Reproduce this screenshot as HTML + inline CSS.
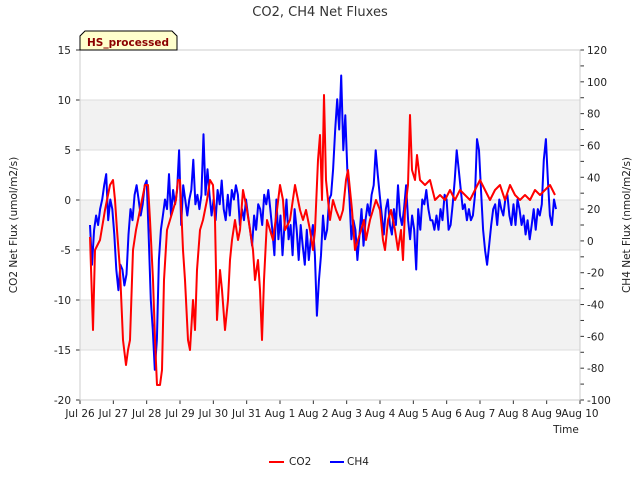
<!DOCTYPE html>
<html><head><meta charset="utf-8"><style>
body{margin:0;background:#fff;}
svg{display:block;font-family:"DejaVu Sans","Liberation Sans",sans-serif;}
</style></head><body>
<svg id="chart" width="640" height="480" viewBox="0 0 640 480">
<text x="320" y="16" text-anchor="middle" font-size="13" fill="#333">CO2, CH4 Net Fluxes</text>
<g id="bands"></g>
<g id="axes"></g>
<g id="series"></g>
<text x="17" y="225" transform="rotate(-90 17 225)" text-anchor="middle" font-size="10.5" fill="#222">CO2 Net Flux (umol/m2/s)</text>
<text x="630" y="225" transform="rotate(-90 630 225)" text-anchor="middle" font-size="10.5" fill="#222">CH4 Net Flux (nmol/m2/s)</text>
<text x="566" y="433" text-anchor="middle" font-size="10.5" fill="#222">Time</text>
<g>
<path d="M80,50 L80,36 L85,31 L172,31 L177,36 L177,50 Z" fill="#ffffcc" stroke="#000" stroke-width="1"/>
<text x="128" y="46" text-anchor="middle" font-size="10.5" font-weight="bold" fill="#8b0000">HS_processed</text>
</g>
<g>
<g><line x1="269" y1="462" x2="284" y2="462" stroke="#f00" stroke-width="2"/><text x="289" y="465" font-size="10.5" fill="#222">CO2</text></g>
<g><line x1="330" y1="462" x2="344" y2="462" stroke="#00f" stroke-width="2"/><text x="347" y="465" font-size="10.5" fill="#222">CH4</text></g>
</g>
</svg>
<script>
const xTickLabels=["Jul 26","Jul 27","Jul 28","Jul 29","Jul 30","Jul 31","Aug 1","Aug 2","Aug 3","Aug 4","Aug 5","Aug 6","Aug 7","Aug 8","Aug 9","Aug 10"];
const leftTicks=[15,10,5,0,-5,-10,-15,-20];
const rightTicks=[120,100,80,60,40,20,0,-20,-40,-60,-80,-100];
const co2Times=[.30,.39,.45,.60,.75,.90,.99,1.05,1.11,1.20,1.29,1.38,1.44,1.50,1.59,1.68,1.80,1.95,2.04,2.10,2.19,2.25,2.31,2.40,2.46,2.52,2.61,2.70,2.79,2.88,2.94,3.00,3.09,3.15,3.24,3.30,3.39,3.45,3.51,3.60,3.69,3.81,3.90,3.99,4.05,4.11,4.20,4.26,4.35,4.44,4.50,4.56,4.65,4.74,4.80,4.89,5.01,5.10,5.19,5.25,5.34,5.40,5.46,5.52,5.61,5.70,5.79,5.91,6.00,6.09,6.15,6.30,6.45,6.54,6.60,6.69,6.78,6.90,6.99,7.05,7.14,7.20,7.26,7.32,7.38,7.44,7.50,7.59,7.68,7.80,7.89,7.98,8.04,8.10,8.16,8.25,8.34,8.43,8.52,8.58,8.70,8.79,8.88,9.00,9.09,9.15,9.24,9.33,9.45,9.54,9.63,9.69,9.75,9.84,9.90,9.96,10.05,10.11,10.20,10.35,10.50,10.65,10.80,10.95,11.10,11.25,11.40,11.55,11.70,11.85,12.00,12.15,12.30,12.45,12.60,12.75,12.90,13.05,13.20,13.35,13.50,13.65,13.80,13.95,14.10,14.25];
const co2Values=[-3.7,-13,-5,-4,-1,1.5,2,0,-3,-7,-14,-16.5,-15,-14,-5,-3,-1,1.5,1.5,-2,-8,-14,-18.5,-18.5,-17,-8,-3,-2,-1,0,2,2,-5,-8,-14,-15,-10,-13,-7,-3,-2,0,2,1.5,-2,-12,-7,-9,-13,-10,-6,-4,-2,-4,-3,1,-1,-3,-5,-8,-6,-9,-14,-8,-2,-3,-4,-1,1.5,0,-3,-2,1.5,0,-1,-2,-1,-3,-5,-3,4,6.5,0,10.5,2,0,-2,0,-1,-2,-1,2,3,1,-1,-5,-4,-3,-2,-4,-2,-1,0,-1,-4,-5,-2,-1,-3,-5,-3,-6,-1,1.5,8.5,3,2,4.5,2,1.5,2,0,0.5,0,1,0,1,0.5,0,1,2,1,0,1,1.5,0,1.5,0.5,0,0.5,0,1,0.5,1,1.5,0.5];
const ch4Start=0.30, ch4End=14.28;
const ch4Values=[10,-15,7,16,10,20,26,35,42,13,26,20,4,-18,-31,-15,-18,-28,-21,4,20,13,29,35,26,16,23,35,38,1,-37,-56,-81,-62,-12,7,16,26,20,42,16,32,23,32,57,10,35,26,16,26,32,51,23,29,20,29,67,29,45,29,16,26,13,32,23,38,20,13,29,16,32,26,35,29,10,20,13,26,16,7,-3,16,7,23,20,10,29,23,32,20,7,-9,26,1,16,-9,10,26,1,10,-9,20,7,-12,10,-3,-15,7,-12,1,10,-9,-47,-25,-9,16,1,7,26,29,45,70,89,70,104,57,79,45,29,1,13,7,-12,4,20,-3,13,23,16,29,35,57,42,29,16,4,20,26,10,4,20,10,35,16,10,20,35,13,1,16,7,-18,20,7,26,23,32,20,13,13,7,16,7,20,13,29,26,7,10,23,38,57,45,32,20,23,13,20,13,16,29,64,57,32,7,-6,-15,-3,10,20,23,10,26,20,16,26,29,16,10,23,10,26,20,10,16,4,13,1,10,20,7,20,16,23,51,64,38,16,10,26,20];

const NS="http://www.w3.org/2000/svg";
const L=80,R=580,T=50,B=400;
const xs=t=>L+t*(R-L)/15;
const yL=v=>T+(15-v)*(B-T)/35;
const yR=v=>T+(120-v)*(B-T)/220;
function mk(tag,attrs,parent){const e=document.createElementNS(NS,tag);for(const k in attrs)e.setAttribute(k,attrs[k]);parent.appendChild(e);return e;}
const bands=document.getElementById('bands'),axes=document.getElementById('axes'),series=document.getElementById('series');
mk('rect',{x:L,y:T,width:R-L,height:B-T,fill:'#fff'},bands);
[[10,5],[0,-5],[-10,-15]].forEach(b=>{
 const r=mk('rect',{x:L,y:yL(b[0]),width:R-L,height:yL(b[1])-yL(b[0]),fill:'#f2f2f2'},bands);
 
 
});
leftTicks.forEach(v=>{
 const g=mk('line',{x1:L,x2:R,y1:yL(v),y2:yL(v),stroke:'#ddd','stroke-width':1},bands);
 
 
 mk('line',{x1:L-4,x2:L,y1:yL(v),y2:yL(v),stroke:'#333'},axes);
 const t=mk('text',{x:L-9,y:yL(v)+4,'text-anchor':'end','font-size':10.5,fill:'#222'},axes);
 t.textContent=v;
 
 
});
for(let v=-100;v<=120;v+=10){
 mk('line',{x1:R,x2:R+4,y1:yR(v),y2:yR(v),stroke:'#333'},axes);
}
rightTicks.forEach(v=>{
 const t=mk('text',{x:R+7,y:yR(v)+4,'font-size':10.5,fill:'#222'},axes);
 t.textContent=v;
 
 
});
xTickLabels.forEach((lab,i)=>{
 mk('line',{x1:xs(i),x2:xs(i),y1:B,y2:B+4,stroke:'#333'},axes);
 const t=mk('text',{x:xs(i),y:B+17,'text-anchor':'middle','font-size':10.5,fill:'#222'},axes);
 t.textContent=lab;
 
 
});
mk('rect',{x:L,y:T,width:R-L,height:B-T,fill:'none',stroke:'#ccc'},axes);
const ch4Step=(ch4End-ch4Start)/(ch4Values.length-1);
const ch4Pts=ch4Values.map((v,i)=>xs(ch4Start+i*ch4Step).toFixed(1)+','+yR(v).toFixed(1)).join(' ');
const bl=mk('polyline',{points:ch4Pts,fill:'none',stroke:'#0000ff','stroke-width':2,'stroke-linejoin':'round'},series);


const co2Pts=co2Values.map((v,i)=>xs(co2Times[i]).toFixed(1)+','+yL(v).toFixed(1)).join(' ');
const rl=mk('polyline',{points:co2Pts,fill:'none',stroke:'#ff0000','stroke-width':2,'stroke-linejoin':'round'},series);


</script>
</body></html>
